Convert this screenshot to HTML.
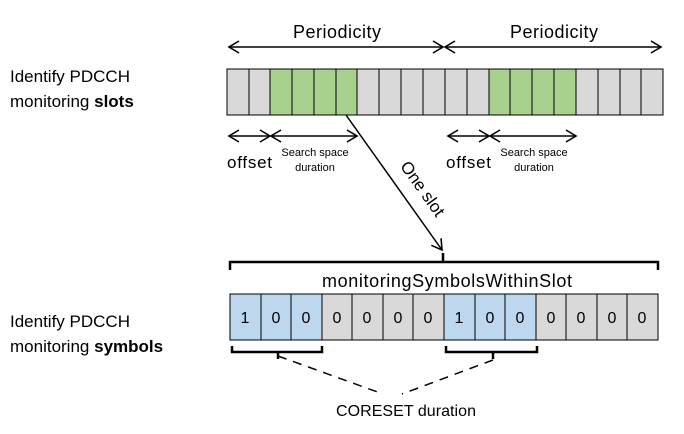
<!DOCTYPE html>
<html><head><style>body{margin:0;background:#fff}</style></head><body>
<svg width="684" height="429" xmlns="http://www.w3.org/2000/svg" font-family="Liberation Sans, sans-serif">
<defs>
<marker id="a" markerWidth="14" markerHeight="14" refX="11" refY="7" orient="auto-start-reverse" markerUnits="userSpaceOnUse"><path d="M1,1 L11,7 L1,13" fill="none" stroke="#000" stroke-width="1.6"/></marker>
</defs>
<g font-size="17">
<text x="10" y="82">Identify PDCCH</text>
<text x="10" y="107">monitoring <tspan font-weight="bold">slots</tspan></text>
<text x="10" y="327">Identify PDCCH</text>
<text x="10" y="352">monitoring <tspan font-weight="bold">symbols</tspan></text>
<text x="293" y="38" font-size="18" textLength="88">Periodicity</text>
<text x="510" y="38" font-size="18" textLength="88">Periodicity</text>
<text x="227" y="168" textLength="45">offset</text>
<text x="446" y="168" textLength="45">offset</text>
<text x="322" y="287" font-size="18" textLength="250">monitoringSymbolsWithinSlot</text>
<text x="336" y="416" font-size="16" textLength="140">CORESET duration</text>
<text transform="translate(418,192) rotate(54.6)" text-anchor="middle" font-size="17">One slot</text>
</g>
<g font-size="11" text-anchor="middle">
<text x="315" y="156">Search space</text><text x="315" y="171">duration</text>
<text x="534" y="156">Search space</text><text x="534" y="171">duration</text>
</g>
<g stroke="#000" stroke-width="1.5" fill="none">
<line x1="229" y1="47" x2="443" y2="47" marker-start="url(#a)" marker-end="url(#a)"/>
<line x1="445" y1="47" x2="661" y2="47" marker-start="url(#a)" marker-end="url(#a)"/>
<line x1="229" y1="136" x2="270" y2="136" marker-start="url(#a)" marker-end="url(#a)"/>
<line x1="271" y1="136" x2="357" y2="136" marker-start="url(#a)" marker-end="url(#a)"/>
<line x1="448" y1="136" x2="489" y2="136" marker-start="url(#a)" marker-end="url(#a)"/>
<line x1="490" y1="136" x2="576" y2="136" marker-start="url(#a)" marker-end="url(#a)"/>
<line x1="346" y1="115" x2="442" y2="250" marker-end="url(#a)"/>
<path d="M230,270 V262 H658 V270 M443,262 V253" stroke-width="2.5"/>
<path d="M232,346 V352 H322 V346 M278,352 V359" stroke-width="2.5"/>
<path d="M446,346 V352 H537 V346 M493,352 V359" stroke-width="2.5"/>
<path d="M278,356 L383,394 M493,360 L402,394" stroke-dasharray="9,7"/>
</g>
<g stroke="#000" stroke-width="1">
<rect x="227" y="69" width="436" height="46" fill="#d9d9d9"/>
<rect x="270" y="69" width="87" height="46" fill="#a9d18e"/>
<rect x="489" y="69" width="87" height="46" fill="#a9d18e"/>
<path d="M249,69V115M270,69V115M292,69V115M314,69V115M336,69V115M357,69V115M379,69V115M401,69V115M423,69V115M445,69V115M467,69V115M489,69V115M510,69V115M532,69V115M554,69V115M576,69V115M598,69V115M620,69V115M641,69V115" fill="none"/>
<rect x="230" y="294" width="428" height="46" fill="#d9d9d9"/>
<rect x="230" y="294" width="92" height="46" fill="#bdd7ee"/>
<rect x="444" y="294" width="92" height="46" fill="#bdd7ee"/>
<path d="M261,294V340M291,294V340M322,294V340M352,294V340M383,294V340M413,294V340M444,294V340M475,294V340M505,294V340M536,294V340M566,294V340M597,294V340M627,294V340" fill="none"/>
</g>
<g font-size="16" text-anchor="middle">
<text x="245" y="323">1</text><text x="276" y="323">0</text><text x="306" y="323">0</text><text x="337" y="323">0</text><text x="367" y="323">0</text><text x="398" y="323">0</text><text x="428" y="323">0</text><text x="459" y="323">1</text><text x="490" y="323">0</text><text x="520" y="323">0</text><text x="551" y="323">0</text><text x="581" y="323">0</text><text x="612" y="323">0</text><text x="642" y="323">0</text>
</g>
</svg>
</body></html>
